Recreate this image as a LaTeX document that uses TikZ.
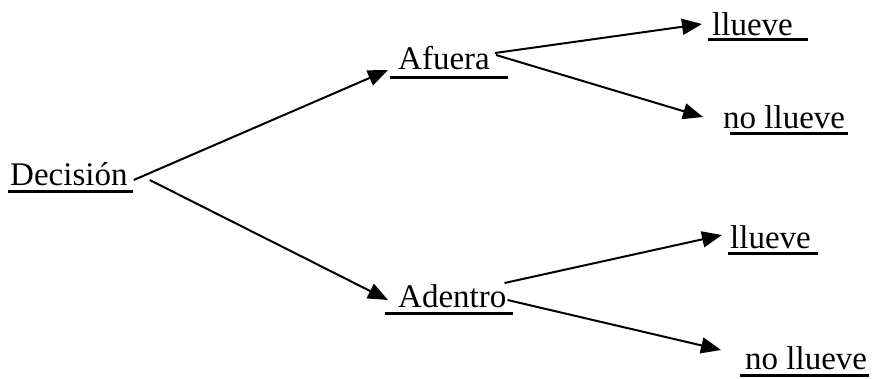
\documentclass[tikz,border=0pt]{standalone}
\usepackage{fontspec}
\setmainfont{Liberation Serif}
\usetikzlibrary{arrows.meta}
\begin{document}
\begin{tikzpicture}[x=1pt,y=-1pt,
  lbl/.style={anchor=base west,inner sep=0pt,font=\fontsize{33}{36}\selectfont},
  ul/.style={line width=3pt},
  conn/.style={line width=2pt,-{Triangle[length=20pt,width=16pt]}}]
\useasboundingbox (0,0) rectangle (875,378);
\node[lbl] (dec) at (10,185) {Decisión};
\node[lbl] (afu) at (398,69) {Afuera};
\node[lbl] (adt) at (398,307) {Adentro};
\node[lbl] (ll1) at (712,35) {llueve};
\node[lbl] (nl1) at (723,128) {no llueve};
\node[lbl] (ll2) at (730,248) {llueve};
\node[lbl] (nl2) at (745,369) {no llueve};
% underlines
\draw[ul] ([xshift=-2pt,yshift=-6pt]dec.base west) -- ([xshift=5pt,yshift=-6pt]dec.base east);
\draw[ul] ([xshift=-8pt,yshift=-8pt]afu.base west) -- ([xshift=18pt,yshift=-8pt]afu.base east);
\draw[ul] ([xshift=-13pt,yshift=-6pt]adt.base west) -- ([xshift=6pt,yshift=-6pt]adt.base east);
\draw[ul] ([xshift=-4pt,yshift=-4pt]ll1.base west) -- ([xshift=15pt,yshift=-4pt]ll1.base east);
\draw[ul] ([xshift=7pt,yshift=-5pt]nl1.base west) -- ([xshift=3pt,yshift=-5pt]nl1.base east);
\draw[ul] ([xshift=-2pt,yshift=-5pt]ll2.base west) -- ([xshift=7pt,yshift=-5pt]ll2.base east);
\draw[ul] ([xshift=-5pt,yshift=-6pt]nl2.base west) -- ([xshift=2pt,yshift=-6pt]nl2.base east);
% connectors
\draw[conn] ([xshift=6pt,yshift=5pt]dec.base east) -- ([xshift=-10pt,yshift=-1pt]afu.base west);
\draw[conn] ([xshift=22pt,yshift=5pt]dec.base east) -- ([xshift=-10pt,yshift=7pt]adt.base west);
\draw[conn] ([xshift=5pt,yshift=16pt]afu.base east) -- ([xshift=-10pt,yshift=11pt]ll1.base west);
\draw[conn] ([xshift=6pt,yshift=14pt]afu.base east) -- ([xshift=-20pt,yshift=11pt]nl1.base west);
\draw[conn] ([xshift=-2pt,yshift=24pt]adt.base east) -- ([xshift=-8pt,yshift=13pt]ll2.base west);
\draw[conn] ([xshift=1pt,yshift=7pt]adt.base east) -- ([xshift=-24pt,yshift=19pt]nl2.base west);
\end{tikzpicture}
\end{document}
